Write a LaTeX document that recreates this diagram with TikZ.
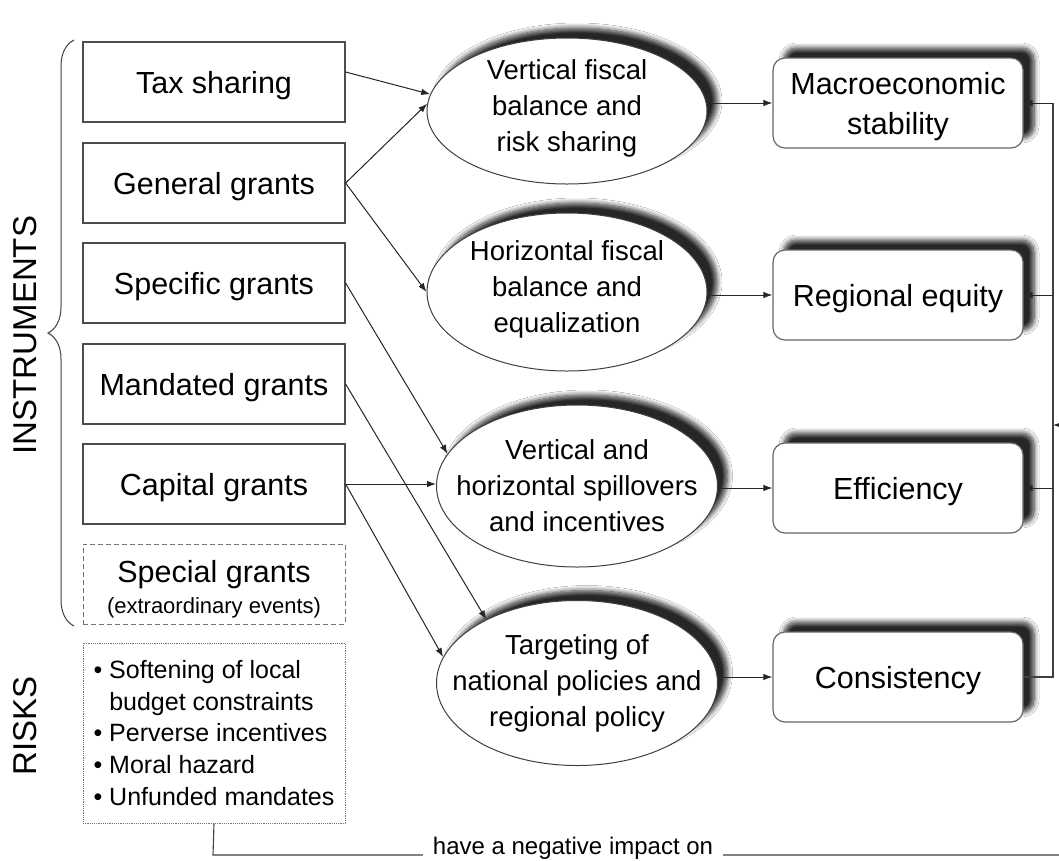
\documentclass[tikz,border=0pt]{standalone}
\usepackage{fontspec}
\setmainfont{Liberation Sans}
\usetikzlibrary{arrows.meta,shapes.geometric,decorations.pathreplacing,shadows.blur}
\begin{document}
\begin{tikzpicture}[x=1pt,y=-1pt,
  lbox/.style={draw=black!70, line width=1.2pt, minimum width=262pt, minimum height=80pt, inner sep=0pt, align=center, text depth=0pt, font=\fontsize{30.5}{37}\selectfont},
  rbox/.style={draw=black!60, line width=1.2pt, rounded corners=12pt, fill=white, minimum width=250pt, minimum height=90pt, inner sep=0pt,
    blur shadow={shadow xshift=11pt, shadow yshift=10pt, shadow blur radius=5pt, shadow blur steps=8, shadow opacity=85}},
  rtext/.style={align=center, yshift=-4pt, font=\fontsize{30.5}{40}\selectfont},
  ell/.style={ellipse, draw=black!75, line width=1pt, fill=white, inner sep=0pt,
    blur shadow={shadow xshift=10pt, shadow yshift=10pt, shadow blur radius=5pt, shadow blur steps=8, shadow opacity=85}},
  etext/.style={align=center, font=\fontsize{27.5}{36}\selectfont},
  arr/.style={draw=black!85, line width=1pt, -{Latex[length=9pt,width=6.5pt]}},
  ln/.style={draw=black!75, line width=1.1pt},
  side/.style={rotate=90, font=\fontsize{33}{36}\selectfont}
]
\useasboundingbox (0,0) rectangle (1059,860);
\fill[white] (0,0) rectangle (1059,860);

% left instrument boxes
\node[lbox] (tax)  at (214,82)  {Tax sharing};
\node[lbox] (gen)  at (214,183) {General grants};
\node[lbox] (spec) at (214,283) {Specific grants};
\node[lbox] (mand) at (214,384) {Mandated grants};
\node[lbox] (cap)  at (214,484) {Capital grants};
\node[lbox, draw=black!55, line width=1pt, dash pattern=on 5pt off 3pt,
  label={[align=center, yshift=-5.5pt, font=\fontsize{30.5}{37}\selectfont]center:Special grants\\[-6pt]{\fontsize{22}{26}\selectfont (extraordinary events)}}] (special) at (214,584) {};
\node[lbox, draw=black!55, line width=1pt, dash pattern=on 1.2pt off 1pt, minimum height=180pt, align=left, text depth=, font=\fontsize{25}{31.7}\selectfont] (risks) at (214,733)
  {\textbullet\ Softening of local\\
   \phantom{\textbullet\ }budget constraints\\
   \textbullet\ Perverse incentives\\
   \textbullet\ Moral hazard\\
   \textbullet\ Unfunded mandates};

% brace and side labels
\draw[ln, line width=1pt, decorate, decoration={brace, amplitude=26pt}] (74,626) -- (74,40);
\node[side] (instr) at (25,335) {INSTRUMENTS};
\node[side] (risk) at (25,726) {RISKS};

% ellipses
\node[ell, minimum width=280pt, minimum height=146pt, label={[etext, yshift=3pt]center:Vertical fiscal\\balance and\\risk sharing}] (e1) at (567,111) {};
\node[ell, minimum width=280pt, minimum height=158pt, label={[etext, yshift=3pt]center:Horizontal fiscal\\balance and\\equalization}] (e2) at (567,292) {};
\node[ell, minimum width=281pt, minimum height=162pt, label={[etext]center:Vertical and\\horizontal spillovers\\and incentives}] (e3) at (577,486) {};
\node[ell, minimum width=281pt, minimum height=165pt, label={[etext]center:Targeting of\\national policies and\\regional policy}] (e4) at (577,683) {};

% right boxes
\node[rbox, label={[rtext]center:Macroeconomic\\stability}] (m1) at (898,103) {};
\node[rbox, label={[rtext]center:Regional equity}] (m2) at (898,295) {};
\node[rbox, label={[rtext]center:Efficiency}] (m3) at (898,488) {};
\node[rbox, label={[rtext]center:Consistency}] (m4) at (898,677) {};

% instruments -> objectives
\draw[arr] ([yshift=10pt]tax.east) -- (e1.173);
\draw[arr] (gen.east) -- (e1.177);
\draw[arr] (gen.east) -- (e2.west);
\draw[arr] (spec.east) -- (e3.166);
\draw[arr] (mand.east) -- (e4.145);
\draw[arr] (cap.east) -- (cap.east -| e3.west);
\draw[arr] (cap.east) -- (e4.169);

% objectives -> goals
\draw[arr] (e1.east |- m1.west) -- (m1.west);
\draw[arr] (e2.east |- m2.west) -- (m2.west);
\draw[arr] (e3.east |- m3.west) -- (m3.west);
\draw[arr] (e4.east |- m4.west) -- (m4.west);

% feedback
\coordinate (fbBot) at (1053,677);
\coordinate (fbTop) at (1053,103);
\draw[ln] (m4.east) -- (fbBot) -- (fbTop);
\draw[arr] (fbTop) -- (m1.east);
\draw[arr] (fbBot |- m2.east) -- (m2.east);
\draw[arr] (fbBot |- m3.east) -- (m3.east);

% risks negative impact
\coordinate (c1) at (213,855);
\coordinate (c2) at (1075,855);
\coordinate (c3) at (1075,425);
\coordinate (c4) at (1053,425);
\draw[ln] (risks.south) -- (c1) -- (c2) -- (c3);
\draw[arr] (c3) -- (c4);
\node[fill=white, anchor=base, inner xsep=10pt, inner ysep=2pt, font=\fontsize{24}{26}\selectfont] (neg) at (573,854) {have a negative impact on};
\end{tikzpicture}
\end{document}
